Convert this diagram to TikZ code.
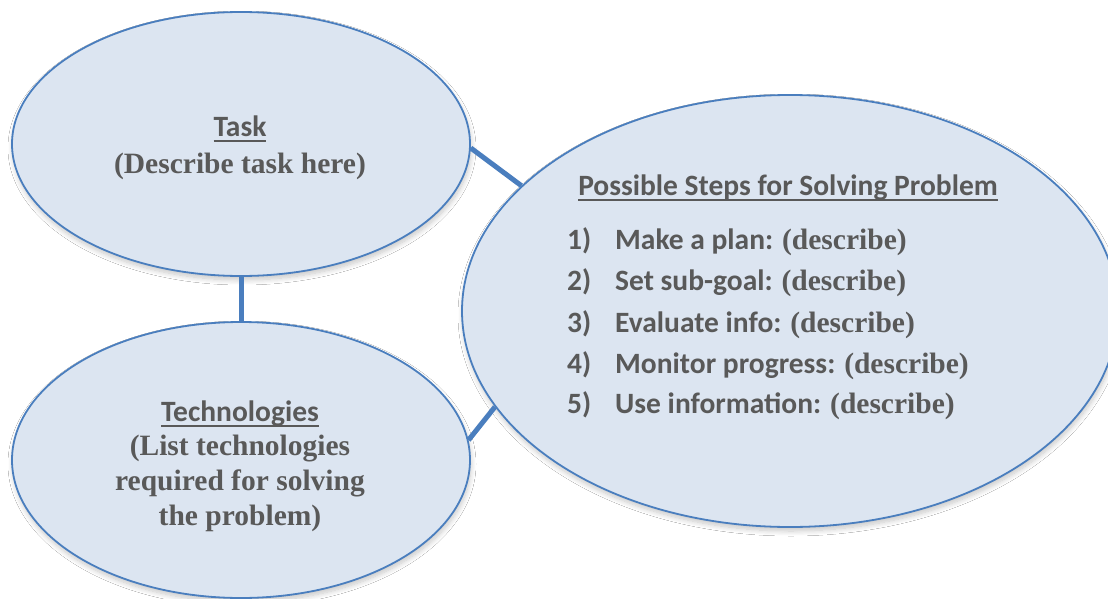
\documentclass[tikz,border=0pt]{standalone}
\usepackage{fontspec}
\setmainfont{Liberation Serif}
\newfontfamily\calibri{Carlito}
\usetikzlibrary{shapes.geometric,shadows.blur}
\definecolor{edgeblue}{RGB}{74,126,190}
\definecolor{fillblue}{RGB}{220,229,241}
\definecolor{txtgray}{RGB}{89,89,89}
\tikzset{
  bubble/.style={ellipse, draw=edgeblue, line width=1.8pt, fill=fillblue, inner sep=0pt,
    blur shadow={shadow xshift=1pt, shadow yshift=-4pt, shadow blur steps=10, shadow blur radius=5pt, shadow opacity=22}},
  link/.style={draw=edgeblue, line width=5pt},
  head/.style={anchor=base, text=txtgray, font=\calibri\bfseries\fontsize{29.5}{34}\selectfont, inner sep=0pt},
  body/.style={anchor=base, text=txtgray, font=\bfseries\fontsize{29.5}{34}\selectfont, inner sep=0pt},
  num/.style={anchor=base west, text=txtgray, font=\calibri\bfseries\fontsize{29.5}{34}\selectfont, inner sep=0pt},
}
\newcommand{\ulbar}[1]{\setbox0\hbox{#1}\rlap{\rule[-5.5pt]{\wd0}{2pt}}\box0}
\begin{document}
\begin{tikzpicture}[x=1pt,y=-1pt]
\useasboundingbox (0,0) rectangle (1108,599);
\clip (0,0) rectangle (1108,599);
\fill[white] (0,0) rectangle (1108,599);
% bubbles
\node[bubble, minimum width=458pt, minimum height=264pt] (task) at (241,144) {};
\node[bubble, minimum width=458pt, minimum height=276pt] (tech) at (241,460) {};
\node[bubble, minimum width=656pt, minimum height=432pt] (steps) at (790,311) {};
% connectors
\draw[link] (task.-1) -- (steps.155);
\draw[link] (task.south) -- (tech.north);
\draw[link] (tech.5) -- (steps.198);
% task text
\node[head] (tasktitle) at (240,137) {\ulbar{Task}};
\node[body] (taskdesc) at (240,173) {(Describe task here)};
% technologies text
\node[head] (techtitle) at (240,421) {\ulbar{Technologies}};
\node[body] (techl1) at (240,455) {(List technologies};
\node[body] (techl2) at (240,490) {required for solving};
\node[body] (techl3) at (240,525) {the problem)};
% steps text
\node[head] (stepstitle) at (788,195) {\ulbar{Possible Steps for Solving Problem}};
\node[num] (n1) at (567,249) {1)};
\node[num] (s1) at (615,249) {Make a plan: {\rmfamily\bfseries (describe)}};
\node[num] (n2) at (567,290) {2)};
\node[num] (s2) at (615,290) {Set sub-goal: {\rmfamily\bfseries (describe)}};
\node[num] (n3) at (567,332) {3)};
\node[num] (s3) at (615,332) {Evaluate info: {\rmfamily\bfseries (describe)}};
\node[num] (n4) at (567,373) {4)};
\node[num] (s4) at (615,373) {Monitor progress: {\rmfamily\bfseries (describe)}};
\node[num] (n5) at (567,413) {5)};
\node[num] (s5) at (615,413) {Use information: {\rmfamily\bfseries (describe)}};
\end{tikzpicture}
\end{document}
